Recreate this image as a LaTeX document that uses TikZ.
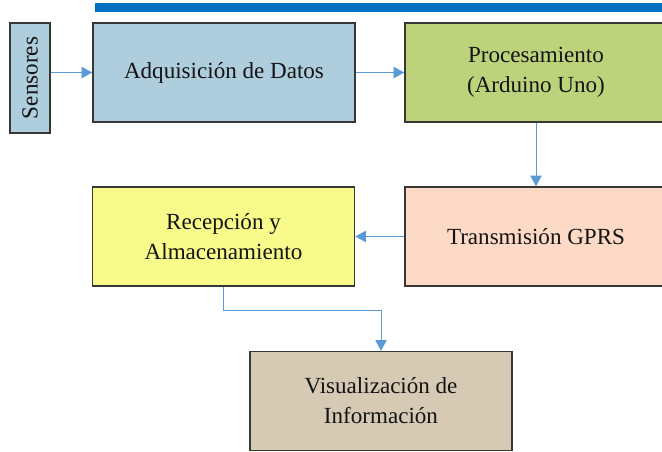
\documentclass[tikz,border=0pt]{standalone}
\usepackage{fontspec}
\setmainfont{Liberation Serif}
\newfontfamily\boxfont{Liberation Serif}
\usetikzlibrary{arrows.meta}

\tikzset{every picture/.style={line width=0.75pt}}

\begin{document}
\begin{tikzpicture}[x=0.75pt,y=0.75pt,yscale=-1,xscale=1,
  block/.style={draw={rgb, 255:red, 55; green, 55; blue, 55 }, line width=1.1pt, align=center, text={rgb, 255:red, 20; green, 20; blue, 20 }, font=\boxfont\fontsize{17.3}{22.5}\selectfont, inner sep=0pt, minimum width=196.5pt, minimum height=74.25pt},
  flow/.style={draw={rgb, 255:red, 91; green, 155; blue, 213 }, line width=0.75pt, -{Triangle[width=8.5pt,length=8pt]}}]
%set diagram left start at 0, and has height of 451
\clip (0,0) rectangle (662,451);

%Shape: Rectangle [id:bar]
\fill [color={rgb, 255:red, 0; green, 112; blue, 192 }] (95,3) rectangle (662,12) ;

% Text Node
\node [block, fill={rgb, 255:red, 174; green, 205; blue, 221 }, minimum width=30pt, minimum height=82.5pt] (sens) at (30,78) {\rotatebox{90}{Sensores}};
% Text Node
\node [block, fill={rgb, 255:red, 174; green, 205; blue, 221 }] (adq) at (224,72.5) {Adquisición de Datos};
% Text Node
\node [block, fill={rgb, 255:red, 189; green, 211; blue, 123 }] (proc) at (536,72.5) {Procesamiento\\(Arduino Uno)};
% Text Node
\node [block, fill={rgb, 255:red, 253; green, 218; blue, 198 }] (trans) at (536,236.5) {Transmisión GPRS};
% Text Node
\node [block, fill={rgb, 255:red, 248; green, 250; blue, 138 }] (rec) at (223.5,236.5) {Recepción y\\Almacenamiento};
% Text Node
\node [block, fill={rgb, 255:red, 214; green, 202; blue, 180 }] (vis) at (381,401) {Visualización de\\Información};

%Straight Lines [id:conn]
\coordinate (bend) at (381,310);
\draw [flow] (sens.east |- adq.west) -- (adq.west) ;
\draw [flow] (adq.east) -- (proc.west) ;
\draw [flow] (proc.south) -- (trans.north) ;
\draw [flow] (trans.west) -- (rec.east) ;
\draw [flow] (rec.south) |- (bend) -- (vis.north) ;

\end{tikzpicture}
\end{document}
